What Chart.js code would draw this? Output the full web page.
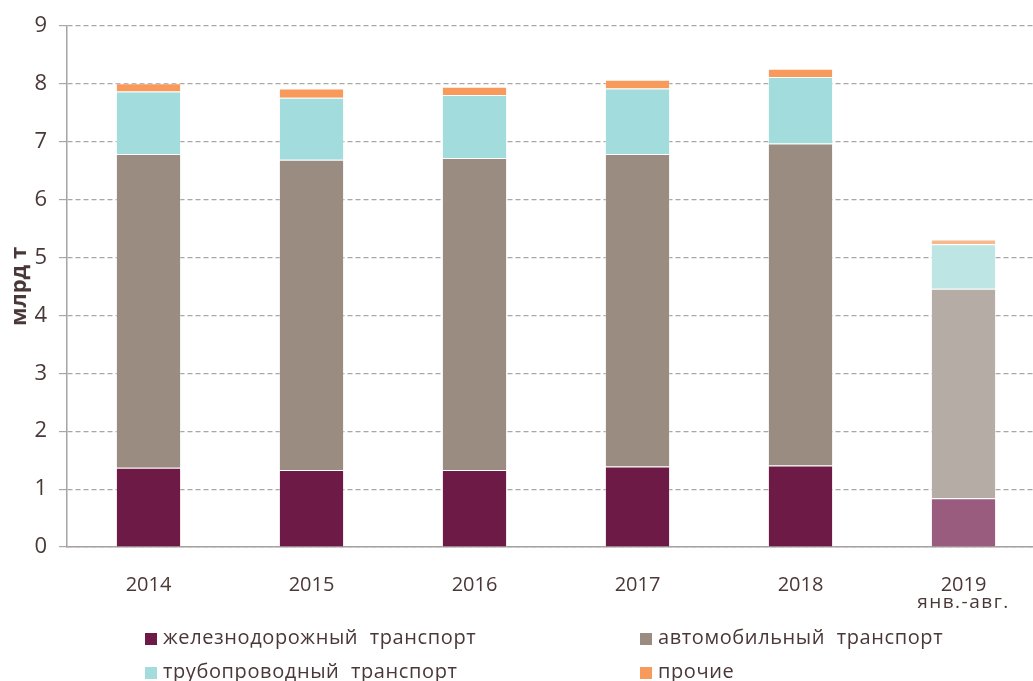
<!DOCTYPE html>
<html>
<head>
<meta charset="utf-8">
<script src="https://cdn.jsdelivr.net/npm/chart.js@4"></script>
<style>
html,body{margin:0;padding:0;background:#fff;overflow:hidden;width:1033px;height:681px;}
#wrap{position:relative;width:1045px;height:681px;}
.leg{position:absolute;font-family:"Open Sans",sans-serif;font-size:20px;color:#4a3838;white-space:nowrap;letter-spacing:0.6px;line-height:24px;}
.leg span.b{display:inline-block;width:12px;height:12px;margin-right:6px;vertical-align:-1px;}
</style>
</head>
<body>
<div id="wrap">
<canvas id="c" width="1045" height="681"></canvas>
</div>
<script>
const categories = ["2014","2015","2016","2017","2018","2019"];
const subLabel = "янв.-авг.";
const railValues  = [1.37, 1.33, 1.33, 1.39, 1.41, 0.84];
const autoValues  = [5.42, 5.36, 5.39, 5.40, 5.56, 3.62];
const pipeValues  = [1.08, 1.07, 1.09, 1.13, 1.15, 0.77];
const otherValues = [0.14, 0.16, 0.14, 0.15, 0.14, 0.08];
const seriesNames = ["железнодорожный транспорт","автомобильный транспорт","трубопроводный транспорт","прочие"];
const yTicks = [0,1,2,3,4,5,6,7,8,9];
const yTitle = "млрд т";

const colors = ["#6d1a47","#9a8c80","#a2dcdc","#f79a5b"];
const lightColors = ["#9a5c7e","#b6aca6","#bce5e3","#f9b78c"];
const textColor = "#4a3838";
const font = "'Open Sans', sans-serif";

function colArr(i){ return categories.map((c,k)=> k===categories.length-1 ? lightColors[i] : colors[i]); }

const allSeries = [railValues, autoValues, pipeValues, otherValues];
const datasets = allSeries.map((vals,i)=>({
  label: seriesNames[i],
  data: vals,
  backgroundColor: colArr(i),
  borderColor: 'rgba(255,255,255,0.35)',
  borderWidth: 1,
  categoryPercentage: 1,
  barPercentage: 0.4
}));

const subLabelPlugin = {
  id:'subLabel',
  afterDraw(chart){
    const ctx = chart.ctx, xs = chart.scales.x;
    ctx.save();
    ctx.font = "19px " + font;
    ctx.fillStyle = textColor;
    ctx.textAlign = 'center';
    ctx.textBaseline = 'middle';
    if ('letterSpacing' in ctx) ctx.letterSpacing = '1.5px';
    ctx.fillText(subLabel, xs.getPixelForValue(categories.length-1), 603);
    ctx.restore();
  }
};

new Chart(document.getElementById('c'), {
  type:'bar',
  data:{labels:categories, datasets},
  plugins:[subLabelPlugin],
  options:{
    responsive:false,
    animation:false,
    layout:{padding:{top:26,right:0,bottom:0,left:0}},
    plugins:{legend:{display:false},tooltip:{enabled:false}},
    scales:{
      x:{
        stacked:true,
        grid:{display:false},
        border:{display:true,color:'#a8a2a2',width:1.5},
        ticks:{color:textColor,font:{family:font,size:20},padding:18,maxRotation:0},
        afterFit(s){ s.height = 681-547; }
      },
      y:{
        stacked:true,
        min:0,max:9,
        afterBuildTicks(s){ s.ticks = yTicks.map(v=>({value:v})); },
        grid:{color:'#a8a8a8',lineWidth:1.2,tickLength:8,drawTicks:true},
        border:{display:true,color:'#a8a2a2',width:1.5,dash:[5,3]},
        ticks:{color:textColor,font:{family:font,size:22},padding:12},
        title:{display:true,text:yTitle,color:textColor,font:{family:font,size:22,weight:'bold'},padding:{top:7,bottom:0}},
        afterFit(s){ s.width = 67; }
      }
    }
  }
});
</script>
<script>
// legend (HTML overlay)
(function(){
  const wrap=document.getElementById('wrap');
  const pos=[[145,637],[640,637],[145,671],[640,671]];
  seriesNames.forEach((n,i)=>{
    const d=document.createElement('div');
    d.className='leg';
    d.style.left=pos[i][0]+'px';
    d.style.top=(pos[i][1]-12)+'px';
    d.innerHTML='<span class="b" style="background:'+colors[i]+'"></span>'+n.replace(' ','&nbsp; ');
    wrap.appendChild(d);
  });
})();
</script>
</body>
</html>
